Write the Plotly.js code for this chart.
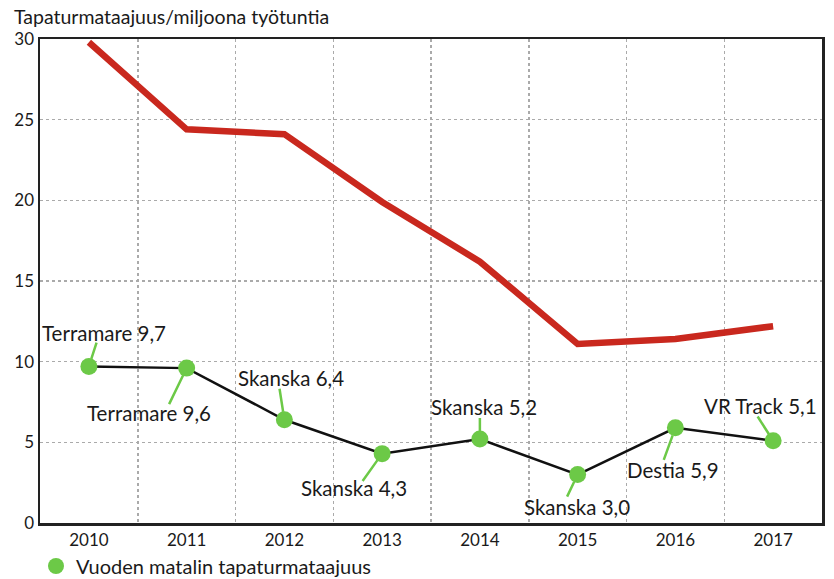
<!DOCTYPE html>
<html><head><meta charset="utf-8">
<script src="https://cdn.plot.ly/plotly-3.0.1.min.js"></script>
<style>html,body{margin:0;padding:0;background:#fff}</style>
</head><body>
<div id="chart" style="width:834px;height:579px"></div>
<script>
const years = [2010, 2011, 2012, 2013, 2014, 2015, 2016, 2017];
const avgRate = [29.8, 24.4, 24.1, 19.9, 16.2, 11.1, 11.4, 12.2];
const lowestRate = [9.7, 9.6, 6.4, 4.3, 5.2, 3.0, 5.9, 5.1];
const lowestCompany = ["Terramare", "Terramare", "Skanska", "Skanska", "Skanska", "Skanska", "Destia", "VR Track"];
const legendName = "Vuoden matalin tapaturmataajuus";
const yTitle = "Tapaturmataajuus/miljoona työtuntia";

// label placement offsets in pixels (text centre and leader-line tail), layout only
const labelOffsets = [
  {dx: 15, dy: -34, ax: 8, ay: -25},
  {dx: -38, dy: 45, ax: -18, ay: 37},
  {dx: 7, dy: -42, ax: -5, ay: -32},
  {dx: -28, dy: 34, ax: -20, ay: 28},
  {dx: 4, dy: -32, ax: 0, ay: -22},
  {dx: -1, dy: 32, ax: -11, ay: 23},
  {dx: -2, dy: 42, ax: -12, ay: 33},
  {dx: -13, dy: -35, ax: -16, ay: -25}
];

const FONT = "Lato, 'Open Sans', sans-serif";
const GREEN = "#6cc947";
const RED = "#c9281e";

const traces = [
  {x: years, y: avgRate, mode: "lines", type: "scatter", showlegend: false,
   line: {color: RED, width: 6.5}, hoverinfo: "skip"},
  {x: years, y: lowestRate, mode: "lines", type: "scatter", showlegend: false,
   line: {color: "#111", width: 2.5}, hoverinfo: "skip"},
  {x: years, y: lowestRate, mode: "markers", type: "scatter", name: legendName,
   marker: {color: GREEN, size: 17}, showlegend: true}
];

const fmt = v => v.toFixed(1).replace(".", ",");
const annotations = [];
years.forEach((yr, i) => {
  const o = labelOffsets[i];
  annotations.push({x: yr, y: lowestRate[i], xref: "x", yref: "y",
    text: lowestCompany[i] + " " + fmt(lowestRate[i]), showarrow: false,
    xshift: o.dx, yshift: -o.dy, font: {family: FONT, size: 20.5, color: "#1a1a1a"}});
  annotations.push({x: yr, y: lowestRate[i], xref: "x", yref: "y",
    text: " ", showarrow: true, arrowhead: 0, arrowwidth: 2.5, arrowcolor: GREEN,
    ax: o.ax, ay: o.ay, standoff: 8, font: {size: 1}, borderpad: 0});
});

const layout = {
  width: 834, height: 579,
  margin: {l: 40, r: 12, t: 39, b: 56},
  paper_bgcolor: "#fff", plot_bgcolor: "#fff",
  font: {family: FONT, color: "#1a1a1a"},
  title: {text: yTitle, x: 14/834, xref: "container", xanchor: "left",
          y: 1 - 17/579, yref: "container", yanchor: "middle",
          font: {family: FONT, size: 19.5, color: "#1a1a1a"}},
  xaxis: {range: [2009.5, 2017.5], tickvals: years, ticktext: years.map(String),
          showgrid: false, zeroline: false, showline: true, mirror: true,
          linecolor: "#222", linewidth: 2.5, ticks: "",
          tickfont: {family: FONT, size: 17, color: "#1a1a1a"},
          minor: {dtick: 1, tick0: 2009.5, showgrid: true, griddash: "dot",
                  gridcolor: "#aaa", gridwidth: 1.5, ticks: ""}},
  yaxis: {range: [0, 30], tickvals: [0, 5, 10, 15, 20, 25, 30],
          showgrid: true, griddash: "dot", gridcolor: "#aaa", gridwidth: 1.5,
          zeroline: false, showline: true, mirror: true,
          linecolor: "#222", linewidth: 2.5, ticks: "",
          tickfont: {family: FONT, size: 17, color: "#1a1a1a"}},
  legend: {orientation: "h", xref: "container", yref: "container",
           x: 36/834, xanchor: "left", y: 1 - 566/579, yanchor: "middle",
           font: {family: FONT, size: 20, color: "#1a1a1a"},
           itemwidth: 30, bgcolor: "rgba(0,0,0,0)"},
  annotations: annotations,
  showlegend: true
};

Plotly.newPlot("chart", traces, layout, {displayModeBar: false, staticPlot: true});
</script>
</body></html>
